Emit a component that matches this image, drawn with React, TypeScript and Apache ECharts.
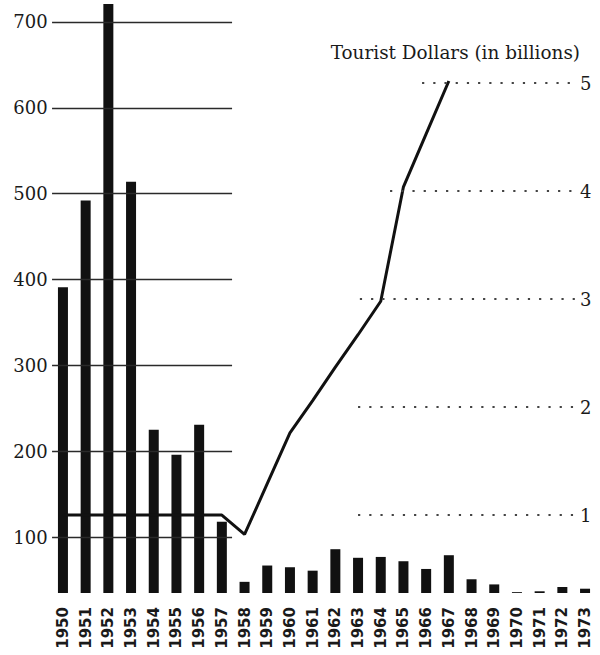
import React, { useEffect, useRef } from "react";
import * as echarts from "echarts";

const years = [
  "1950", "1951", "1952", "1953", "1954", "1955", "1956", "1957",
  "1958", "1959", "1960", "1961", "1962", "1963", "1964", "1965",
  "1966", "1967", "1968", "1969", "1970", "1971", "1972", "1973",
];

const barValues = [
  391, 492, 721, 514, 225, 196, 231, 118,
  48, 67, 65, 61, 86, 76, 77, 72,
  63, 79, 51, 45, 36, 37, 42, 40,
];

const touristDollars = [
  1.0, 1.0, 1.0, 1.0, 1.0, 1.0, 1.0, 1.0,
  0.82, 1.29, 1.76, 2.06, 2.37, 2.67, 2.98, 4.04,
  4.53, 5.02, null, null, null, null, null, null,
];

const leftTicks = [100, 200, 300, 400, 500, 600, 700];
const rightTicks = [1, 2, 3, 4, 5];
const rightTickLabels = ["1", "2", "3", "4", "5"];
const rightTitle = "Tourist Dollars (in billions)";

// extents of the reference guide lines, in category-index units
const leftRuleSpan = [-0.48, 7.45];
const rightRuleStarts = [13.0, 13.0, 13.08, 14.41, 15.82];
const rightRuleEnd = 22.55;

const SERIF = "'DejaVu Serif', 'Liberation Serif', serif";
const SANS = "'DejaVu Sans', 'Liberation Sans', sans-serif";

export default function App() {
  const ref = useRef<HTMLDivElement>(null);

  useEffect(() => {
    document.body.style.margin = "0";
    if (!ref.current) return;
    const chart = echarts.init(ref.current, null, { renderer: "svg" });

    const option: any = {
      animation: false,
      backgroundColor: "#ffffff",
      title: {
        text: rightTitle,
        right: 15,
        top: 38,
        textStyle: {
          fontFamily: SERIF,
          fontWeight: "normal",
          fontSize: 18.4,
          color: "#1a1a1a",
        },
      },
      grid: {
        left: 51.6,
        right: 3.6,
        top: 0,
        bottom: 62,
        containLabel: false,
        outerBoundsMode: "none",
      },
      xAxis: [
        {
          type: "category",
          data: years,
          boundaryGap: true,
          axisLine: { show: false },
          axisTick: { show: false },
          axisLabel: {
            rotate: 90,
            margin: 14,
            interval: 0,
            fontFamily: SANS,
            fontWeight: "bold",
            fontSize: 15,
            color: "#1a1a1a",
          },
        },
        {
          type: "value",
          min: -0.5,
          max: 23.5,
          show: false,
        },
      ],
      yAxis: [
        {
          type: "value",
          min: 35,
          max: 725.6,
          splitLine: { show: false },
          axisLine: { show: false },
          axisTick: { show: false },
          axisLabel: {
            customValues: leftTicks,
            margin: 4,
            verticalAlign: "middle",
            fontFamily: SERIF,
            fontSize: 18,
            color: "#1a1a1a",
          },
        },
        {
          type: "value",
          position: "right",
          min: 0.278,
          max: 5.77,
          splitLine: { show: false },
          axisLine: { show: false },
          axisTick: { show: false },
          axisLabel: {
            customValues: rightTicks,
            formatter: (v: number) => rightTickLabels[rightTicks.indexOf(v)] ?? "",
            inside: true,
            margin: 5,
            fontFamily: SERIF,
            fontSize: 18,
            color: "#1a1a1a",
          },
        },
      ],
      series: [
        {
          type: "line",
          xAxisIndex: 1,
          yAxisIndex: 0,
          data: [],
          silent: true,
          markLine: {
            silent: true,
            symbol: "none",
            label: { show: false },
            emphasis: { disabled: true },
            lineStyle: { color: "#2a2a2a", width: 1.4, type: "solid" },
            data: leftTicks.map((v) => [
              { coord: [leftRuleSpan[0], v] },
              { coord: [leftRuleSpan[1], v] },
            ]),
          },
          z: 1,
        },
        {
          type: "line",
          xAxisIndex: 1,
          yAxisIndex: 1,
          data: [],
          silent: true,
          markLine: {
            silent: true,
            symbol: "none",
            label: { show: false },
            emphasis: { disabled: true },
            lineStyle: { color: "#444444", width: 2.2, type: [2.2, 9] },
            data: rightTicks.map((v, i) => [
              { coord: [rightRuleStarts[i], v] },
              { coord: [rightRuleEnd, v] },
            ]),
          },
          z: 1,
        },
        {
          type: "bar",
          xAxisIndex: 0,
          yAxisIndex: 0,
          data: barValues,
          barWidth: 10,
          itemStyle: { color: "#111111" },
          silent: true,
          z: 2,
        },
        {
          type: "line",
          xAxisIndex: 0,
          yAxisIndex: 1,
          data: touristDollars,
          symbol: "none",
          connectNulls: false,
          lineStyle: { color: "#111111", width: 3 },
          silent: true,
          z: 3,
        },
      ],
    };

    chart.setOption(option);
    return () => chart.dispose();
  }, []);

  return (
    <div
      ref={ref}
      style={{ position: "absolute", left: 0, top: 0, width: 600, height: 655 }}
    />
  );
}
